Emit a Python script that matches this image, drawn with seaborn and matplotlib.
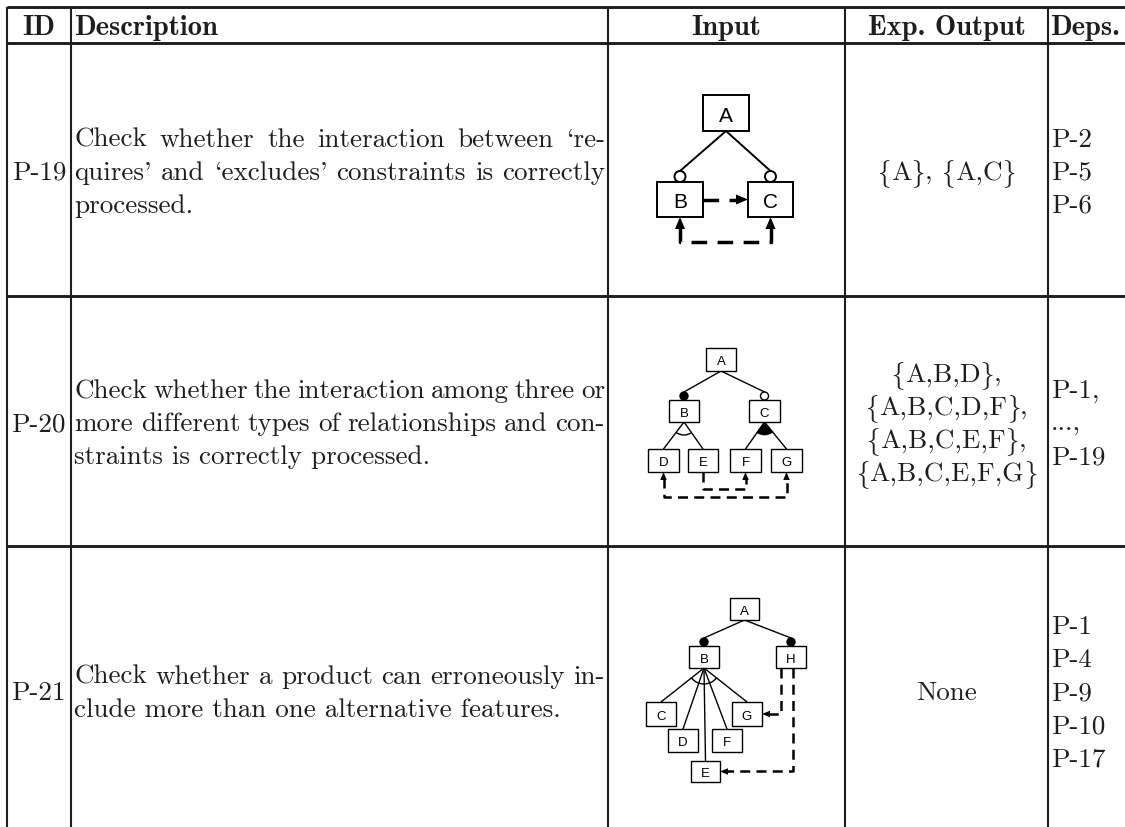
import numpy as np
import matplotlib.pyplot as plt
import matplotlib.patches as mpatches
import seaborn as sns

sns.set_theme(style="white")
plt.rcParams['font.family'] = ['cmr10', 'DejaVu Serif']
plt.rcParams['axes.unicode_minus'] = False

W, H = 1125, 828

# ---- table content ----
headers = ["ID", "Description", "Input", "Exp. Output", "Deps."]
ids = ["P-19", "P-20", "P-21"]
desc_lines = [
    ["Check whether the interaction between `re-",
     "quires' and `excludes' constraints is correctly",
     "processed."],
    ["Check whether the interaction among three or",
     "more different types of relationships and con-",
     "straints is correctly processed."],
    ["Check whether a product can erroneously in-",
     "clude more than one alternative features."],
]
exp_output = [
    ["{A}, {A,C}"],
    ["{A,B,D},", "{A,B,C,D,F},", "{A,B,C,E,F},", "{A,B,C,E,F,G}"],
    ["None"],
]
deps = [
    ["P-2", "P-5", "P-6"],
    ["P-1,", "...,", "P-19"],
    ["P-1", "P-4", "P-9", "P-10", "P-17"],
]

# ---- feature diagrams (boxes x0, y0, x1, y1 in pixels) ----
diagram_nodes = [
    {"A": (703, 96, 749, 132), "B": (657, 183, 703, 218), "C": (748, 183, 793, 218)},
    {"A": (706, 349, 736, 372), "B": (669, 401, 699, 423), "C": (749, 401, 780, 423),
     "D": (648, 450, 679, 473), "E": (688, 450, 718, 473),
     "F": (730, 450, 761, 473), "G": (771, 450, 802, 473)},
    {"A": (730, 599, 759, 621), "B": (689, 647, 719, 669), "H": (776, 647, 806, 669),
     "C": (646, 703, 676, 727), "G": (732, 703, 762, 727), "D": (668, 730, 698, 753),
     "F": (712, 730, 742, 753), "E": (691, 762, 720, 783)},
]
diagram_edges = [
    [("A", "B", "optional"), ("A", "C", "optional")],
    [("A", "B", "mandatory"), ("A", "C", "optional")],
    [("A", "B", "mandatory"), ("A", "H", "mandatory")],
]
diagram_groups = [
    [],
    [("B", ["D", "E"], "alt"), ("C", ["F", "G"], "or")],
    [("B", ["C", "D", "E", "F", "G"], "alt")],
]
# (source, target, kind, route, offset)
diagram_constraints = [
    [("B", "C", "requires", "side", 0), ("B", "C", "excludes", "below", 25)],
    [("E", "F", "requires", "below", 17), ("D", "G", "excludes", "below", 25)],
    [("H", "G", "requires", "elbow", 5), ("H", "E", "requires", "elbow", 17)],
]
diagram_style = [
    dict(fs=15, lw=1.4, dlw=2.5, r=5.5, ah=12, aw=10, gr=0, dash=(4.5, 3)),
    dict(fs=9.5, lw=1.0, dlw=1.8, r=4, ah=8, aw=6.5, gr=13, dash=(4, 2.5)),
    dict(fs=9.5, lw=1.0, dlw=1.8, r=4, ah=8, aw=6.5, gr=16, dash=(4, 2.5)),
]

# ---- layout ----
col_x = [7, 70.5, 608, 845, 1048]
rule_y = [7.5, 44, 297, 547]
row_center = [170.5, 422, 691]
BODY_FS = 19.5
HEAD_FS = 20.5
LS = 33
INK = "#1e1e1e"

fig = plt.figure(figsize=(W / 100, H / 100), dpi=100)
ax = fig.add_axes([0, 0, 1, 1])
ax.set_xlim(0, W)
ax.set_ylim(H, 0)
ax.axis('off')
renderer = fig.canvas.get_renderer()

em = BODY_FS * 100 / 72
base_off = 0.34 * em


def width_of(s, **kw):
    t = ax.text(0, 0, s, fontsize=BODY_FS, **kw)
    w = t.get_window_extent(renderer).width
    t.remove()
    return w


def line_ys(yc, n):
    return [yc + (i - (n - 1) / 2) * LS + base_off for i in range(n)]


def set_text(xc, y, s):
    # braces come from the CM symbol font (TeX slots 'f' and 'g')
    runs = []
    for ch in s:
        fam = 'cmsy10' if ch in '{}' else 'cmr10'
        g = {'{': 'f', '}': 'g'}.get(ch, ch)
        if runs and runs[-1][0] == fam:
            runs[-1][1] += g
        else:
            runs.append([fam, g])
    ws = [width_of(g, family=f) for f, g in runs]
    x = xc - sum(ws) / 2
    for (f, g), w in zip(runs, ws):
        ax.text(x, y, g, family=f, fontsize=BODY_FS, color=INK, ha='left', va='baseline')
        x += w


# table rules
ax.hlines(rule_y, col_x[0], W, color=INK, lw=2.1)
ax.vlines(col_x, rule_y[0], H, color=INK, lw=1.5)

# header
hy = (rule_y[0] + rule_y[1]) / 2 + 0.34 * HEAD_FS * 100 / 72
hkw = dict(fontsize=HEAD_FS, family='cmb10', color=INK, va='baseline')
ax.text((col_x[0] + col_x[1]) / 2, hy, headers[0], ha='center', **hkw)
ax.text(col_x[1] + 4, hy, headers[1], ha='left', **hkw)
ax.text((col_x[2] + col_x[3]) / 2, hy, headers[2], ha='center', **hkw)
ax.text((col_x[3] + col_x[4]) / 2, hy, headers[3], ha='center', **hkw)
ax.text(col_x[4] + 2, hy, headers[4], ha='left', **hkw)

tkw = dict(fontsize=BODY_FS, color=INK, va='baseline')
dx0, dx1 = col_x[1] + 4, col_x[2] - 3
for r in range(3):
    yc = row_center[r]
    ax.text((col_x[0] + col_x[1]) / 2, line_ys(yc, 1)[0], ids[r], ha='center', **tkw)
    # justified description
    lines = desc_lines[r]
    for i, (ln, y) in enumerate(zip(lines, line_ys(yc, len(lines)))):
        if i == len(lines) - 1:
            ax.text(dx0, y, ln, ha='left', **tkw)
            continue
        words = ln.split(' ')
        ws = [width_of(w) for w in words]
        gap = (dx1 - dx0 - sum(ws)) / (len(words) - 1)
        x = dx0
        for w, wd in zip(words, ws):
            ax.text(x, y, w, ha='left', **tkw)
            x += wd + gap
    for ln, y in zip(exp_output[r], line_ys(yc, len(exp_output[r]))):
        set_text((col_x[3] + col_x[4]) / 2, y, ln)
    for ln, y in zip(deps[r], line_ys(yc, len(deps[r]))):
        ax.text(col_x[4] + 3, y, ln, ha='left', **tkw)


# ---- diagram helpers ----
def arrow_head(tip, d, st):
    d = np.asarray(d, float)
    d /= np.linalg.norm(d)
    n = np.array([-d[1], d[0]])
    tip = np.asarray(tip, float)
    base = tip - d * st['ah']
    pts = [tip, base + n * st['aw'] / 2, base - n * st['aw'] / 2]
    ax.add_patch(mpatches.Polygon(pts, closed=True, fc='black', ec='none', zorder=5))


def dashed(pts, st, head_end=True, head_start=False):
    pts = np.asarray(pts, float).copy()
    d_end = pts[-1] - pts[-2]
    d_start = pts[0] - pts[1]
    tip_end, tip_start = pts[-1].copy(), pts[0].copy()
    if head_end:
        pts[-1] = pts[-1] - d_end / np.linalg.norm(d_end) * st['ah'] * 0.8
    if head_start:
        pts[0] = pts[0] - d_start / np.linalg.norm(d_start) * st['ah'] * 0.8
    ax.plot(pts[:, 0], pts[:, 1], color='black', lw=st['dlw'],
            linestyle=(0, st['dash']), solid_capstyle='butt', dash_capstyle='butt', zorder=3)
    if head_end:
        arrow_head(tip_end, d_end, st)
    if head_start:
        arrow_head(tip_start, d_start, st)


for nodes, edges, groups, cons, st in zip(diagram_nodes, diagram_edges, diagram_groups,
                                          diagram_constraints, diagram_style):
    cx = {k: (v[0] + v[2]) / 2 for k, v in nodes.items()}
    cy = {k: (v[1] + v[3]) / 2 for k, v in nodes.items()}
    for name, (x0, y0, x1, y1) in nodes.items():
        ax.add_patch(mpatches.Rectangle((x0, y0), x1 - x0, y1 - y0, fc='white', ec='black',
                                        lw=st['lw'], zorder=4))
        ax.text(cx[name], cy[name] + 0.36 * st['fs'] * 100 / 72, name, family='Liberation Sans',
                fontsize=st['fs'], ha='center', va='baseline', color='black', zorder=6)
    for p, c, kind in edges:
        r = st['r']
        top = nodes[c][1]
        ax.plot([cx[p], cx[c]], [nodes[p][3], top - 2 * r], color='black', lw=st['lw'], zorder=2)
        ax.add_patch(mpatches.Circle((cx[c], top - r), r, ec='black', lw=st['lw'],
                                     fc='black' if kind == 'mandatory' else 'white', zorder=4))
    for p, kids, kind in groups:
        ox, oy = cx[p], nodes[p][3]
        angs = []
        for c in kids:
            tx, ty = cx[c], nodes[c][1]
            ax.plot([ox, tx], [oy, ty], color='black', lw=st['lw'], zorder=2)
            angs.append(np.degrees(np.arctan2(ty - oy, tx - ox)))
        if kind == 'alt':
            ax.add_patch(mpatches.Arc((ox, oy), 2 * st['gr'], 2 * st['gr'], theta1=min(angs),
                                      theta2=max(angs), color='black', lw=st['lw'], zorder=3))
        else:
            ax.add_patch(mpatches.Wedge((ox, oy), st['gr'], min(angs), max(angs),
                                        fc='black', ec='black', lw=0.5, zorder=3))
    for s, t, kind, route, off in cons:
        if route == 'side':
            pts = [(nodes[s][2], cy[s]), (nodes[t][0], cy[t])]
        elif route == 'below':
            yb = nodes[s][3] + off
            pts = [(cx[s], nodes[s][3]), (cx[s], yb), (cx[t], yb), (cx[t], nodes[t][3])]
        else:
            xs = nodes[s][0] + off
            pts = [(xs, nodes[s][3]), (xs, cy[t]), (nodes[t][2], cy[t])]
        dashed(pts, st, head_end=True, head_start=(kind == 'excludes'))

fig.savefig("out.png", dpi=100)
